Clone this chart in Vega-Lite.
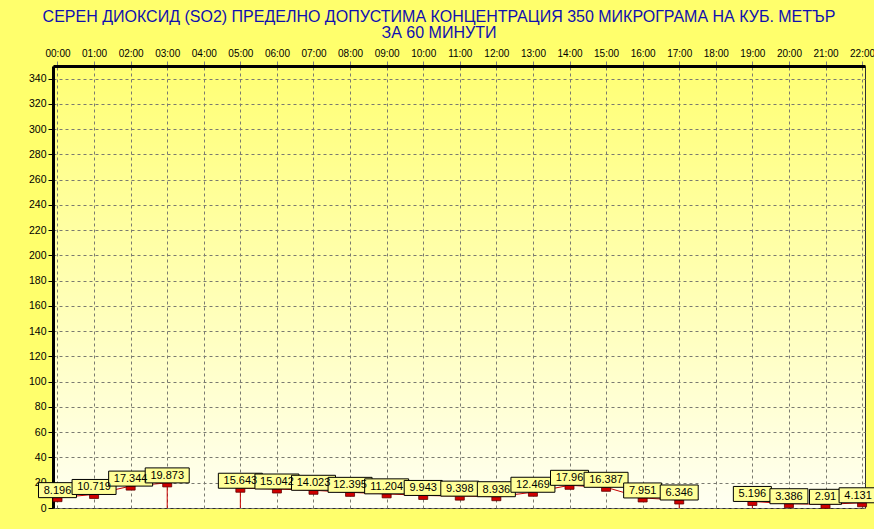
{
  "$schema": "https://vega.github.io/schema/vega-lite/v6.json",
  "width": 812,
  "height": 442,
  "autosize": {"type": "none"},
  "padding": {"left": 53, "top": 66, "right": 9, "bottom": 21},
  "background": "#FFFF6C",
  "title": {
    "text": ["СЕРЕН ДИОКСИД  (SO2)  ПРЕДЕЛНО ДОПУСТИМА КОНЦЕНТРАЦИЯ 350 МИКРОГРАМА  НА КУБ. МЕТЪР", "ЗА 60 МИНУТИ"],
    "font": "Liberation Sans",
    "fontSize": 16,
    "fontWeight": "normal",
    "color": "#1010B0",
    "lineHeight": 16,
    "anchor": "middle",
    "frame": "group",
    "dx": -20,
    "offset": 7
  },
  "config": {
    "font": "Liberation Sans",
    "view": {
      "stroke": "#303030",
      "strokeWidth": 1,
      "fill": {
        "gradient": "linear",
        "x1": 0, "y1": 0, "x2": 0, "y2": 1,
        "stops": [
          {"offset": 0, "color": "#FFFF74"},
          {"offset": 1, "color": "#FFFFF2"}
        ]
      }
    }
  },
  "data": {
    "values": [
      {"hour": 0, "value": 8.196},
      {"hour": 1, "value": 10.719},
      {"hour": 2, "value": 17.344},
      {"hour": 3, "value": 19.873},
      {"hour": 4, "value": null},
      {"hour": 5, "value": 15.643},
      {"hour": 6, "value": 15.042},
      {"hour": 7, "value": 14.023},
      {"hour": 8, "value": 12.395},
      {"hour": 9, "value": 11.204},
      {"hour": 10, "value": 9.943},
      {"hour": 11, "value": 9.398},
      {"hour": 12, "value": 8.936},
      {"hour": 13, "value": 12.469},
      {"hour": 14, "value": 17.96},
      {"hour": 15, "value": 16.387},
      {"hour": 16, "value": 7.951},
      {"hour": 17, "value": 6.346},
      {"hour": 18, "value": null},
      {"hour": 19, "value": 5.196},
      {"hour": 20, "value": 3.386},
      {"hour": 21, "value": 2.91},
      {"hour": 22, "value": 4.131}
    ]
  },
  "encoding": {
    "x": {
      "field": "hour",
      "type": "quantitative",
      "scale": {"domain": [-0.123, 22.08], "nice": false, "zero": false},
      "axis": {
        "orient": "top",
        "title": null,
        "values": [0,1,2,3,4,5,6,7,8,9,10,11,12,13,14,15,16,17,18,19,20,21,22],
        "labelExpr": "(datum.value < 10 ? '0' : '') + datum.value + ':00'",
        "labelFontSize": 10,
        "labelColor": "#000000",
        "labelPadding": 3,
        "labelOverlap": false,
        "labelFlush": false,
        "tickSize": 5,
        "tickColor": "#808080",
        "domainColor": "#000000",
        "domainWidth": 3,
        "grid": true,
        "gridColor": "#7A7A70",
        "gridDash": [3, 3],
        "gridOpacity": 1
      }
    },
    "y": {
      "field": "value",
      "type": "quantitative",
      "scale": {"domain": [0, 350], "nice": false},
      "axis": {
        "title": null,
        "values": [0,20,40,60,80,100,120,140,160,180,200,220,240,260,280,300,320,340],
        "labelFontSize": 10.5,
        "labelColor": "#000000",
        "labelPadding": 2,
        "tickSize": 5,
        "tickColor": "#000000",
        "domainColor": "#000000",
        "domainWidth": 3,
        "grid": true,
        "gridColor": "#7A7A70",
        "gridDash": [3, 3],
        "gridOpacity": 1
      }
    }
  },
  "layer": [
    {
      "mark": {"type": "line", "color": "#C80000", "strokeWidth": 1, "invalid": "break-paths-filter-domains"}
    },
    {
      "transform": [
        {
          "window": [
            {"op": "lag", "field": "value", "as": "prevV"},
            {"op": "lead", "field": "value", "as": "nextV"},
            {"op": "lag", "field": "hour", "as": "prevH"},
            {"op": "lead", "field": "hour", "as": "nextH"}
          ],
          "sort": [{"field": "hour"}]
        },
        {"filter": "datum.value != null && ((datum.prevH != null && datum.prevV == null) || (datum.nextH != null && datum.nextV == null))"}
      ],
      "mark": {"type": "rule", "color": "#C80000", "strokeWidth": 1},
      "encoding": {"y2": {"datum": 0}}
    },
    {
      "transform": [{"filter": "datum.value != null"}],
      "mark": {"type": "tick", "orient": "horizontal", "size": 9, "thickness": 4, "yOffset": 2, "color": "#D00000", "stroke": "#600000", "strokeWidth": 0.8, "opacity": 1}
    },
    {
      "transform": [{"filter": "datum.value != null"}],
      "mark": {
        "type": "rect",
        "fill": "#FFFF99",
        "stroke": "#000000",
        "strokeWidth": 1,
        "yOffset": -15,
        "xOffset": {"expr": "(datum.hour == 22 ? -4 : 0) - 4 - 3 * length(toString(datum.value))"},
        "x2Offset": {"expr": "(datum.hour == 22 ? -4 : 0) + 4 + 3 * length(toString(datum.value))"}
      },
      "encoding": {
        "x2": {"field": "hour"},
        "y2": {"field": "value"}
      }
    },
    {
      "transform": [{"filter": "datum.value != null"}],
      "mark": {"type": "text", "fontSize": 11, "color": "#000000", "align": "center", "baseline": "middle", "yOffset": -7, "xOffset": {"expr": "datum.hour == 22 ? -4 : 0"}},
      "encoding": {"text": {"field": "value", "type": "quantitative"}}
    }
  ]
}
